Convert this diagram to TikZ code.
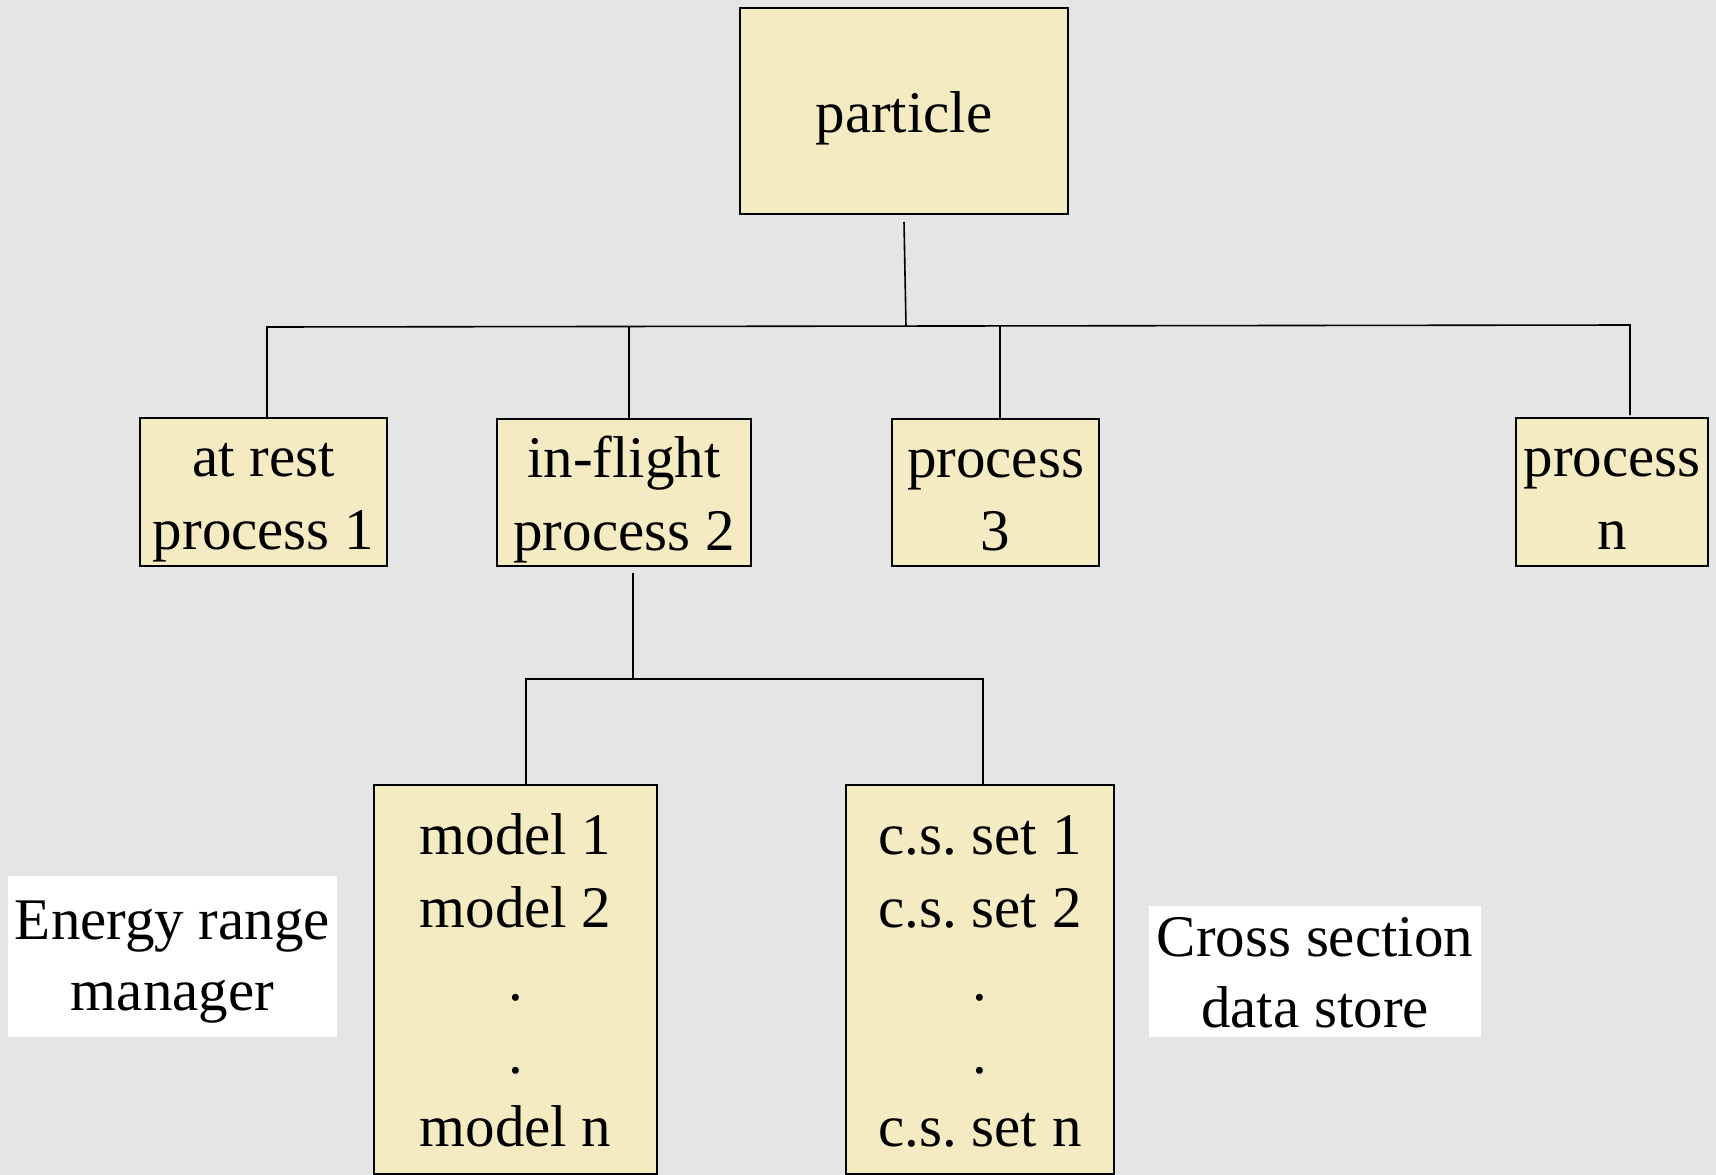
\documentclass[tikz,border=0pt]{standalone}
\usepackage{fontspec}
\setmainfont{Liberation Serif}
\frenchspacing
\definecolor{bg}{RGB}{229,229,229}
\definecolor{boxfill}{RGB}{245,235,194}
\newcommand\mystrut{\rule[-14pt]{0pt}{70pt}}
\newcommand\wstrut{\rule[-10pt]{0pt}{60pt}}
\tikzset{
  ybox/.style={rectangle, draw=black, line width=2pt, fill=boxfill, inner sep=0pt,
               align=center, font=\fontsize{59}{73}\selectfont},
  wbox/.style={rectangle, fill=white, inner sep=0pt,
               align=center, font=\fontsize{59}{71}\selectfont},
  conn/.style={draw=black, line width=1.6pt}
}
\begin{document}
\begin{tikzpicture}[x=1pt,y=-1pt]
\fill[bg] (0,0) rectangle (1716,1175);
\useasboundingbox (0,0) rectangle (1716,1175);

\node[ybox, minimum width=328pt, minimum height=206pt] (particle) at (904,111) {\mystrut particle};
\node[ybox, minimum width=247pt, minimum height=148pt] (rest) at (263.5,492) {\mystrut at rest\\\mystrut process 1};
\node[ybox, minimum width=254pt, minimum height=147pt] (flight) at (624,492.5) {\mystrut in-flight\\\mystrut process 2};
\node[ybox, minimum width=207pt, minimum height=147pt] (p3) at (995.5,492.5) {\mystrut process\\\mystrut 3};
\node[ybox, minimum width=192pt, minimum height=148pt] (pn) at (1612,492) {\mystrut process\\\mystrut n};
\node[ybox, minimum width=283pt, minimum height=389pt] (model) at (515.5,979.5)
  {\mystrut model 1\\\mystrut model 2\\\mystrut .\\\mystrut .\\\mystrut model n};
\node[ybox, minimum width=268pt, minimum height=389pt] (cs) at (980,979.5)
  {\mystrut c.s. set 1\\\mystrut c.s. set 2\\\mystrut .\\\mystrut .\\\mystrut c.s. set n};
\node[wbox, minimum width=329pt, minimum height=161pt] (erm) at (172.5,956.5) {\wstrut Energy range\\\wstrut manager};
\node[wbox, minimum width=332pt, minimum height=131pt] (csd) at (1315,971.5) {\wstrut Cross section\\\wstrut data store};

% top bus
\coordinate (ps) at ([yshift=-7pt]particle.south);
\coordinate (bus) at (906,326);
\coordinate (busL) at (267,327);
\coordinate (busR) at (1630,325);
\coordinate (b2) at (629,327);
\coordinate (b3) at (1000,326);
\draw[conn] (ps) -- (bus);
\draw[conn] (rest.north -| busL) -- (busL) -- (busR) -- ([yshift=2pt]busR |- pn.north);
\draw[conn] (b2) -- (b2 |- flight.north);
\draw[conn] (b3) -- (b3 |- p3.north);

% lower bus
\coordinate (fs) at ([yshift=-6pt]flight.south);
\coordinate (sub) at (633,679);
\coordinate (subL) at (526,679);
\coordinate (subR) at (983,679);
\draw[conn] (fs -| sub) -- (sub);
\draw[conn] (subL |- model.north) -- (subL) -- (subR) -- (subR |- cs.north);
\end{tikzpicture}
\end{document}
